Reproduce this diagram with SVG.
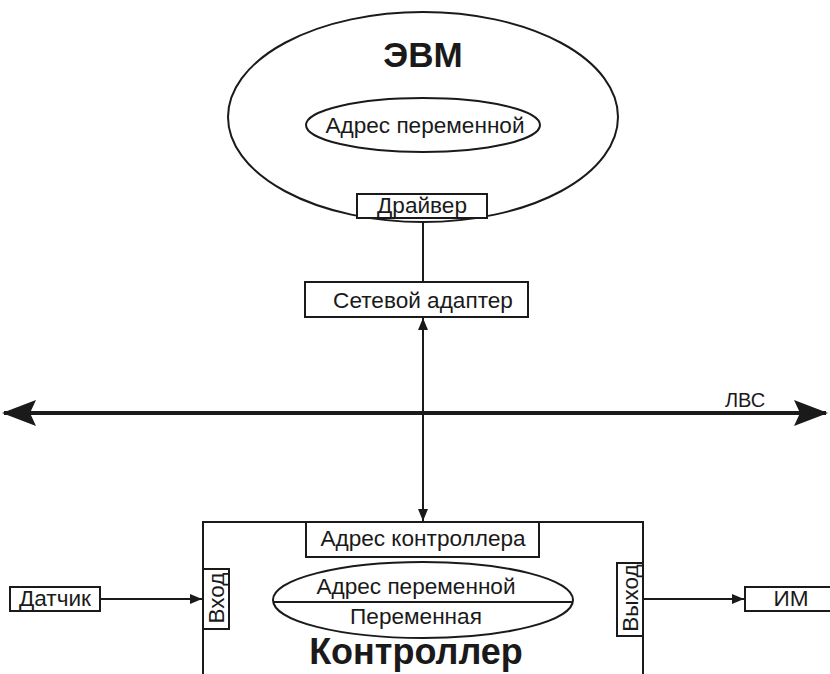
<svg xmlns="http://www.w3.org/2000/svg" width="830" height="674" viewBox="0 0 830 674">
<style>
.s{fill:#fff;stroke:#1a1a1a;stroke-width:2}
.n{fill:none;stroke:#1a1a1a;stroke-width:2}
.t{font-family:"Liberation Sans",Arial,sans-serif;font-size:22.6px;fill:#1a1a1a;text-anchor:middle}
.b{font-family:"Liberation Sans",Arial,sans-serif;font-weight:bold;fill:#1a1a1a;text-anchor:middle}
</style>
<defs>
<marker id="ah" viewBox="0 0 12 10" refX="12" refY="5" markerWidth="12" markerHeight="10" markerUnits="userSpaceOnUse" orient="auto-start-reverse">
<path d="M0,0 L12,5 L0,10 Z" fill="#1a1a1a"/>
</marker>
<marker id="big" viewBox="0 0 34 26" refX="32" refY="13" markerWidth="34" markerHeight="26" markerUnits="userSpaceOnUse" orient="auto-start-reverse">
<path d="M0,0 L34,13 L0,26 L6,13 Z" fill="#1a1a1a"/>
</marker>
</defs>
<rect width="830" height="674" fill="#fff"/>
<g id="connectors">
<line class="n" x1="423" y1="218" x2="423" y2="282"/>
<line x1="4" y1="413" x2="826" y2="413" stroke="#1a1a1a" stroke-width="4" marker-start="url(#big)" marker-end="url(#big)"/>
<line class="n" x1="423" y1="318" x2="423" y2="521" marker-start="url(#ah)" marker-end="url(#ah)"/>
<line class="n" x1="100" y1="599" x2="202" y2="599" marker-end="url(#ah)"/>
<line class="n" x1="643" y1="599" x2="744" y2="599" marker-end="url(#ah)"/>
</g>
<g id="evm">
<ellipse class="s" cx="423" cy="117" rx="195" ry="105"/>
<text class="b" x="423" y="67" font-size="35">ЭВМ</text>
</g>
<g id="evm-address">
<ellipse class="s" cx="423" cy="125" rx="117" ry="27"/>
<text class="t" x="425" y="133" font-size="23.5">Адрес переменной</text>
</g>
<g id="driver">
<rect class="s" x="357" y="194" width="130" height="24"/>
<text class="t" x="422" y="213">Драйвер</text>
</g>
<g id="adapter">
<rect class="s" x="305" y="282" width="223" height="35"/>
<text class="t" x="423" y="308">Сетевой адаптер</text>
</g>
<g id="lan">
<text x="745" y="407" font-family="Liberation Sans,Arial,sans-serif" font-size="20" fill="#1a1a1a" text-anchor="middle">ЛВС</text>
</g>
<g id="controller">
<rect class="s" x="203" y="522" width="440" height="170"/>
<text class="b" x="416" y="664" font-size="36">Контроллер</text>
</g>
<g id="controller-address">
<rect class="s" x="306" y="522" width="233" height="35"/>
<text class="t" x="423" y="546">Адрес контроллера</text>
</g>
<g id="variable">
<ellipse class="s" cx="423" cy="600" rx="150" ry="38"/>
<line class="n" x1="273" y1="602" x2="573" y2="602"/>
<text class="t" x="416" y="594">Адрес переменной</text>
<text class="t" x="416" y="624">Переменная</text>
</g>
<g id="input">
<rect class="s" x="203" y="569" width="26" height="60"/>
<text class="t" transform="translate(224,598) rotate(-90)" x="0" y="0" font-size="21">Вход</text>
</g>
<g id="output">
<rect class="s" x="617" y="563" width="26" height="73"/>
<text class="t" transform="translate(638,598) rotate(-90)" x="0" y="0" font-size="21">Выход</text>
</g>
<g id="sensor">
<rect class="s" x="10" y="587" width="90" height="24"/>
<text class="t" x="55" y="606" font-size="21.5">Датчик</text>
</g>
<g id="actuator">
<rect class="s" x="745" y="587" width="95" height="24"/>
<text class="t" x="791" y="606" font-size="21.5">ИМ</text>
</g>
</svg>
